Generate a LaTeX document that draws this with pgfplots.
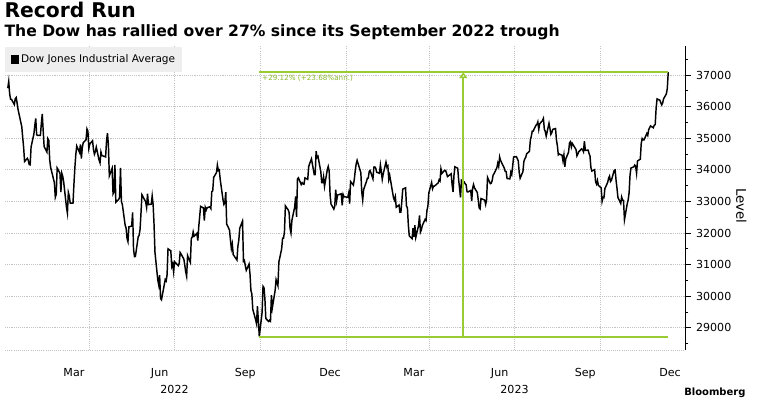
\documentclass[border=0pt]{standalone}
\usepackage{pgfplots}
\pgfplotsset{compat=1.18}
\usepgfplotslibrary{dateplot}
\usetikzlibrary{arrows.meta}
\usepackage{fontspec}
\setmainfont{DejaVu Sans}
\definecolor{gridgray}{RGB}{195,195,195}
\definecolor{legendgray}{RGB}{238,238,238}
\definecolor{annogreen}{RGB}{153,204,51}
\begin{document}
\begin{tikzpicture}
\path[use as bounding box] (0,0) rectangle (569.25pt,299.25pt);
\node[anchor=base west, inner sep=0, font=\bfseries\fontsize{15.2}{17}\selectfont] at (3.2pt,285.75pt) {Record Run};
\node[anchor=base west, inner sep=0, font=\bfseries\fontsize{11.7}{13}\selectfont] at (3.2pt,271.5pt) {The Dow has rallied over 27\% since its September 2022 trough};
\begin{axis}[
  at={(3.75pt,36.75pt)}, anchor=south west,
  scale only axis, width=510pt, height=228pt,
  date coordinates in=x,
  xmin=2021-12-31, xmax=2023-12-31,
  ymin=28300, ymax=37920,
  scaled y ticks=false,
  axis y line*=right, axis x line*=bottom,
  y axis line style={-, black, line width=0.6pt},
  x axis line style={-, draw=gridgray, densely dotted, line width=0.6pt},
  xtick={2022-03-15,2022-06-15,2022-09-15,2022-12-15,2023-03-15,2023-06-15,2023-09-15,2023-12-15},
  xticklabels={Mar,Jun,Sep,Dec,Mar,Jun,Sep,Dec},
  minor xtick={2022-04-01,2022-07-01,2022-10-01,2023-01-01,2023-04-01,2023-07-01,2023-10-01},
  extra x ticks={2022-07-01,2023-07-01},
  extra x tick labels={2022,2023},
  extra x tick style={xmajorgrids=false, xminorgrids=false, major tick length=0pt, xticklabel style={yshift=-16.8pt}},
  xmajorgrids=false, xminorgrids=true,
  x tick style={draw=none},
  xticklabel style={yshift=-5.9pt, font=\fontsize{8.3}{10}\selectfont},
  ytick={29000,30000,...,37000},
  minor ytick={28500,29500,...,37500},
  ymajorgrids=true,
  grid style={gridgray, densely dotted, line width=0.6pt},
  minor grid style={gridgray, densely dotted, line width=0.6pt},
  y tick style={black, line width=0.6pt},
  tick align=outside,
  major tick length=4.5pt, minor tick length=2.5pt,
  yticklabel style={font=\fontsize{8.3}{10}\selectfont, xshift=0.3pt, /pgf/number format/1000 sep={}},
  /pgf/number format/assume math mode=true,
  legend style={at={(rel axis cs:0,1)}, anchor=north west, yshift=-0.75pt, fill=legendgray, draw=none,
    inner xsep=4pt, inner ysep=3.5pt, font=\fontsize{7.9}{9}\selectfont,
    nodes={inner xsep=1.5pt}},
  legend image code/.code={\fill[black] (0pt,-2.6pt) rectangle (5.25pt,2.65pt);},
]
\addplot[black, line width=1.1pt] table[x=date, y=v] {
date v
2022-01-03 36585
2022-01-04 36799
2022-01-05 36407
2022-01-06 36236
2022-01-07 36231
2022-01-10 36068
2022-01-11 36252
2022-01-12 36290
2022-01-13 36113
2022-01-14 35912
2022-01-18 35368
2022-01-19 35029
2022-01-20 34715
2022-01-21 34265
2022-01-24 34364
2022-01-25 34298
2022-01-26 34168
2022-01-27 34160
2022-01-28 34725
2022-01-31 35132
2022-02-01 35405
2022-02-02 35629
2022-02-03 35111
2022-02-04 35089
2022-02-07 35091
2022-02-08 35463
2022-02-09 35768
2022-02-10 35241
2022-02-11 34738
2022-02-14 34566
2022-02-15 34988
2022-02-16 34934
2022-02-17 34312
2022-02-18 34079
2022-02-22 33597
2022-02-23 33132
2022-02-24 33224
2022-02-25 34059
2022-02-28 33893
2022-03-01 33294
2022-03-02 33891
2022-03-03 33795
2022-03-04 33615
2022-03-07 32818
2022-03-08 32633
2022-03-09 33286
2022-03-10 33174
2022-03-11 32945
2022-03-14 32945
2022-03-15 33544
2022-03-16 34063
2022-03-17 34481
2022-03-18 34755
2022-03-21 34553
2022-03-22 34808
2022-03-23 34359
2022-03-24 34708
2022-03-25 34862
2022-03-28 34955
2022-03-29 35295
2022-03-30 35229
2022-03-31 34678
2022-04-01 34818
2022-04-04 34922
2022-04-05 34641
2022-04-06 34497
2022-04-07 34584
2022-04-08 34721
2022-04-11 34308
2022-04-12 34220
2022-04-13 34565
2022-04-14 34452
2022-04-18 34412
2022-04-19 34912
2022-04-20 35161
2022-04-21 34793
2022-04-22 33812
2022-04-25 34049
2022-04-26 33240
2022-04-27 33302
2022-04-28 34160
2022-04-29 32977
2022-05-02 33062
2022-05-03 33129
2022-05-04 34061
2022-05-05 32998
2022-05-06 32899
2022-05-09 32246
2022-05-10 32161
2022-05-11 31834
2022-05-12 31730
2022-05-13 32197
2022-05-16 32223
2022-05-17 32655
2022-05-18 31490
2022-05-19 31254
2022-05-20 31262
2022-05-23 31880
2022-05-24 31929
2022-05-25 32120
2022-05-26 32637
2022-05-27 33213
2022-05-31 32990
2022-06-01 32813
2022-06-02 33249
2022-06-03 32900
2022-06-06 32916
2022-06-07 33180
2022-06-08 32910
2022-06-09 32273
2022-06-10 31393
2022-06-13 30517
2022-06-14 30365
2022-06-15 30669
2022-06-16 29927
2022-06-17 29889
2022-06-21 30530
2022-06-22 30484
2022-06-23 30677
2022-06-24 31501
2022-06-27 31439
2022-06-28 30947
2022-06-29 31029
2022-06-30 30775
2022-07-01 31097
2022-07-05 30968
2022-07-06 31038
2022-07-07 31385
2022-07-08 31338
2022-07-11 31174
2022-07-12 30982
2022-07-13 30773
2022-07-14 30631
2022-07-15 31288
2022-07-18 31073
2022-07-19 31828
2022-07-20 31875
2022-07-21 32037
2022-07-22 31899
2022-07-25 31990
2022-07-26 31762
2022-07-27 32198
2022-07-28 32530
2022-07-29 32845
2022-08-01 32798
2022-08-02 32397
2022-08-03 32813
2022-08-04 32727
2022-08-05 32803
2022-08-08 32833
2022-08-09 32775
2022-08-10 33310
2022-08-11 33337
2022-08-12 33761
2022-08-15 33913
2022-08-16 34152
2022-08-17 33981
2022-08-18 33999
2022-08-19 33707
2022-08-22 33064
2022-08-23 32910
2022-08-24 32970
2022-08-25 33292
2022-08-26 32283
2022-08-29 32099
2022-08-30 31791
2022-08-31 31510
2022-09-01 31656
2022-09-02 31319
2022-09-06 31146
2022-09-07 31581
2022-09-08 31775
2022-09-09 32152
2022-09-12 32381
2022-09-13 31105
2022-09-14 31135
2022-09-15 30962
2022-09-16 30822
2022-09-19 31020
2022-09-20 30706
2022-09-21 30184
2022-09-22 30077
2022-09-23 29590
2022-09-26 29261
2022-09-27 29135
2022-09-28 29684
2022-09-29 29226
2022-09-30 28726
2022-10-03 29490
2022-10-04 30317
2022-10-05 30274
2022-10-06 29927
2022-10-07 29297
2022-10-10 29203
2022-10-11 29240
2022-10-12 29211
2022-10-13 30039
2022-10-14 29635
2022-10-17 30186
2022-10-18 30524
2022-10-19 30424
2022-10-20 30334
2022-10-21 31083
2022-10-24 31500
2022-10-25 31837
2022-10-26 31839
2022-10-27 32034
2022-10-28 32861
2022-10-31 32733
2022-11-01 32653
2022-11-02 32148
2022-11-03 32002
2022-11-04 32403
2022-11-07 32827
2022-11-08 33161
2022-11-09 32514
2022-11-10 33716
2022-11-11 33748
2022-11-14 33537
2022-11-15 33593
2022-11-16 33554
2022-11-17 33547
2022-11-18 33746
2022-11-21 33700
2022-11-22 34098
2022-11-23 34195
2022-11-25 34347
2022-11-28 33850
2022-11-29 33853
2022-11-30 34590
2022-12-01 34395
2022-12-02 34430
2022-12-05 33947
2022-12-06 33597
2022-12-07 33598
2022-12-08 33781
2022-12-09 33477
2022-12-12 34006
2022-12-13 34109
2022-12-14 33966
2022-12-15 33203
2022-12-16 32920
2022-12-19 32758
2022-12-20 32850
2022-12-21 33377
2022-12-22 33027
2022-12-23 33204
2022-12-27 33242
2022-12-28 32876
2022-12-29 33221
2022-12-30 33147
2023-01-03 33136
2023-01-04 33270
2023-01-05 32930
2023-01-06 33631
2023-01-09 33518
2023-01-10 33704
2023-01-11 33974
2023-01-12 34190
2023-01-13 34303
2023-01-17 33911
2023-01-18 33297
2023-01-19 33045
2023-01-20 33376
2023-01-23 33630
2023-01-24 33734
2023-01-25 33744
2023-01-26 33949
2023-01-27 33978
2023-01-30 33717
2023-01-31 34086
2023-02-01 34093
2023-02-02 34054
2023-02-03 33926
2023-02-06 33891
2023-02-07 34156
2023-02-08 33949
2023-02-09 33699
2023-02-10 33869
2023-02-13 34246
2023-02-14 34089
2023-02-15 34128
2023-02-16 33697
2023-02-17 33827
2023-02-21 33130
2023-02-22 33045
2023-02-23 33154
2023-02-24 32817
2023-02-27 32889
2023-02-28 32657
2023-03-01 32662
2023-03-02 33004
2023-03-03 33391
2023-03-06 33431
2023-03-07 32856
2023-03-08 32798
2023-03-09 32255
2023-03-10 31910
2023-03-13 31820
2023-03-14 32155
2023-03-15 31875
2023-03-16 32247
2023-03-17 31862
2023-03-20 32245
2023-03-21 32561
2023-03-22 32031
2023-03-23 32106
2023-03-24 32238
2023-03-27 32433
2023-03-28 32394
2023-03-29 32718
2023-03-30 32860
2023-03-31 33274
2023-04-03 33601
2023-04-04 33403
2023-04-05 33483
2023-04-06 33485
2023-04-10 33587
2023-04-11 33685
2023-04-12 33647
2023-04-13 34030
2023-04-14 33887
2023-04-17 33988
2023-04-18 33977
2023-04-19 33897
2023-04-20 33787
2023-04-21 33809
2023-04-24 33876
2023-04-25 33531
2023-04-26 33302
2023-04-27 33827
2023-04-28 34098
2023-05-01 34051
2023-05-02 33684
2023-05-03 33414
2023-05-04 33128
2023-05-05 33675
2023-05-08 33619
2023-05-09 33562
2023-05-10 33531
2023-05-11 33309
2023-05-12 33301
2023-05-15 33349
2023-05-16 33012
2023-05-17 33421
2023-05-18 33536
2023-05-19 33427
2023-05-22 33287
2023-05-23 33056
2023-05-24 32800
2023-05-25 32765
2023-05-26 33093
2023-05-30 33043
2023-05-31 32908
2023-06-01 33062
2023-06-02 33763
2023-06-05 33563
2023-06-06 33573
2023-06-07 33665
2023-06-08 33834
2023-06-09 33877
2023-06-12 34066
2023-06-13 34212
2023-06-14 34108
2023-06-15 34408
2023-06-16 34299
2023-06-20 34053
2023-06-21 33952
2023-06-22 33947
2023-06-23 33727
2023-06-26 33715
2023-06-27 33927
2023-06-28 33853
2023-06-29 34122
2023-06-30 34408
2023-07-03 34418
2023-07-05 34288
2023-07-06 33922
2023-07-07 33735
2023-07-10 33944
2023-07-11 34262
2023-07-12 34348
2023-07-13 34395
2023-07-14 34509
2023-07-17 34586
2023-07-18 34952
2023-07-19 35061
2023-07-20 35225
2023-07-21 35228
2023-07-24 35411
2023-07-25 35438
2023-07-26 35520
2023-07-27 35282
2023-07-28 35459
2023-07-31 35560
2023-08-01 35630
2023-08-02 35282
2023-08-03 35216
2023-08-04 35066
2023-08-07 35474
2023-08-08 35314
2023-08-09 35124
2023-08-10 35176
2023-08-11 35281
2023-08-14 35308
2023-08-15 34946
2023-08-16 34766
2023-08-17 34475
2023-08-18 34501
2023-08-21 34464
2023-08-22 34289
2023-08-23 34473
2023-08-24 34100
2023-08-25 34347
2023-08-28 34560
2023-08-29 34853
2023-08-30 34891
2023-08-31 34722
2023-09-01 34838
2023-09-05 34642
2023-09-06 34443
2023-09-07 34501
2023-09-08 34577
2023-09-11 34664
2023-09-12 34646
2023-09-13 34576
2023-09-14 34907
2023-09-15 34618
2023-09-18 34625
2023-09-19 34518
2023-09-20 34441
2023-09-21 34070
2023-09-22 33964
2023-09-25 34007
2023-09-26 33619
2023-09-27 33551
2023-09-28 33666
2023-09-29 33508
2023-10-02 33433
2023-10-03 33002
2023-10-04 33130
2023-10-05 33120
2023-10-06 33408
2023-10-09 33605
2023-10-10 33740
2023-10-11 33804
2023-10-12 33632
2023-10-13 33670
2023-10-16 33985
2023-10-17 33998
2023-10-18 33665
2023-10-19 33415
2023-10-20 33127
2023-10-23 32937
2023-10-24 33141
2023-10-25 33036
2023-10-26 33035
2023-10-27 32418
2023-10-30 32929
2023-10-31 33053
2023-11-01 33275
2023-11-02 33840
2023-11-03 34061
2023-11-06 34096
2023-11-07 34153
2023-11-08 34112
2023-11-09 33892
2023-11-10 34283
2023-11-13 34338
2023-11-14 34828
2023-11-15 34992
2023-11-16 34946
2023-11-17 34947
2023-11-20 35151
2023-11-21 35089
2023-11-22 35273
2023-11-24 35390
2023-11-27 35333
2023-11-28 35417
2023-11-29 35430
2023-11-30 35951
2023-12-01 36246
2023-12-04 36204
2023-12-05 36125
2023-12-06 36055
2023-12-07 36118
2023-12-08 36248
2023-12-11 36405
2023-12-12 36578
2023-12-13 37090
};
\addlegendentry{Dow Jones Industrial Average}
\addplot[forget plot, annogreen, line width=1.5pt] coordinates {(2022-09-30,28725.51) (2023-12-13,28725.51)};
\addplot[forget plot, annogreen, line width=1.5pt] coordinates {(2022-09-30,37090.4) (2023-12-13,37090.4)};
\addplot[forget plot, annogreen, line width=1.5pt, -{Triangle[open, length=4.5pt, width=6pt, line width=1.2pt]}] coordinates {(2023-05-07,28725.51) (2023-05-07,37090.4)};
\node[anchor=north west, inner sep=0, text=annogreen!90!black, font=\fontsize{5.4}{6}\selectfont] at (axis cs:2022-09-30,37090.4) [xshift=2pt, yshift=-1.8pt] {+29.12\% (+23.68\%ann.)};
\end{axis}
\node[rotate=-90, font=\fontsize{10}{12}\selectfont] at (556pt,145pt) {Level};
\node[anchor=south west, inner sep=0, font=\bfseries\fontsize{7.5}{9}\selectfont] at (513pt,0.8pt) {Bloomberg};
\end{tikzpicture}
\end{document}
